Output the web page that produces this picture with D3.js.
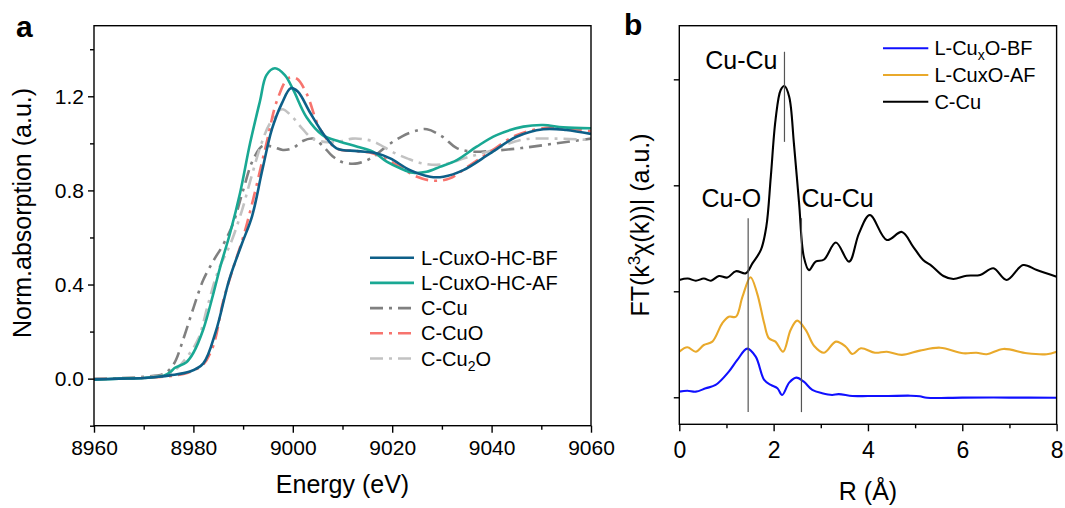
<!DOCTYPE html>
<html><head><meta charset="utf-8">
<script src="https://cdn.jsdelivr.net/npm/d3@7"></script>
<style>
body{margin:0;background:#fff;}
text{font-family:"Liberation Sans",Arial,sans-serif;fill:#000;}
</style></head>
<body><svg id="c" width="1065" height="508"></svg>
<script>
// ---------- Panel a data (Energy eV, normalized absorption) ----------
const seriesA = ["L-CuxO-HC-BF","L-CuxO-HC-AF","C-Cu","C-CuO","C-Cu2O"];
const bfA = [[8960,-0.003],[8965,0],[8970,0.003],[8973,0.008],[8975.3,0.014],[8979.3,0.03],[8982,0.065],[8984.5,0.2],[8987.2,0.42],[8989.7,0.57],[8991.8,0.69],[8993.8,0.88],[8995.8,1.06],[8997.8,1.17],[8999.6,1.234],[9001,1.22],[9003.5,1.13],[9006.5,1.03],[9008.8,0.979],[9013,0.967],[9017,0.957],[9019.6,0.936],[9023.6,0.886],[9027.6,0.858],[9030.3,0.858],[9034.3,0.886],[9039.7,0.957],[9045,1.028],[9050.4,1.06],[9055,1.057],[9060,1.04]];
const afA = [[8960,-0.005],[8965,0],[8970,0.003],[8974,0.012],[8975.5,0.03],[8976.2,0.045],[8978.6,0.07],[8980,0.11],[8982,0.21],[8984,0.36],[8985.4,0.475],[8987.4,0.62],[8989.4,0.79],[8991.4,1.0],[8993.4,1.18],[8994.7,1.29],[8996.4,1.319],[8998.4,1.29],[9000.1,1.227],[9002.8,1.11],[9006,1.035],[9009.5,1.007],[9013,0.986],[9016.2,0.964],[9018.9,0.922],[9021.6,0.894],[9024.2,0.875],[9026.9,0.879],[9029.6,0.9],[9033,0.929],[9037,0.986],[9041,1.035],[9046.4,1.071],[9050.4,1.078],[9054.4,1.068],[9060,1.064]];
const cuA = [[8960,0],[8965,0.002],[8970,0.008],[8974,0.02],[8976,0.06],[8978,0.17],[8980,0.3],[8982,0.42],[8984,0.5],[8986,0.57],[8988,0.66],[8990,0.8],[8992,0.93],[8994,0.99],[8996,0.985],[8998,0.972],[9000,0.98],[9002,1.01],[9004,1.02],[9006,0.99],[9008,0.945],[9010,0.92],[9013,0.915],[9016,0.94],[9019,0.99],[9022,1.03],[9025,1.055],[9027,1.06],[9030,1.03],[9033,0.98],[9036,0.965],[9040,0.968],[9046,0.98],[9053,1.0],[9060,1.02]];
const cuoA = [[8960,-0.003],[8965,0],[8970,0.003],[8975,0.01],[8978,0.02],[8980,0.035],[8982,0.06],[8984,0.14],[8986,0.33],[8988,0.47],[8990,0.6],[8992,0.76],[8994.7,1.0],[8996.8,1.18],[8999.1,1.277],[9000.8,1.275],[9002.8,1.21],[9005.5,1.06],[9008.8,0.979],[9013,0.967],[9016.2,0.957],[9021,0.907],[9025,0.858],[9028.3,0.841],[9031.6,0.851],[9035.6,0.907],[9039.7,0.964],[9045,1.035],[9051.8,1.068],[9056.5,1.061],[9060,1.052]];
const cu2oA = [[8960,0],[8970,0.005],[8975,0.02],[8977,0.05],[8979,0.1],[8981,0.17],[8983,0.32],[8985,0.46],[8987.4,0.57],[8989.7,0.71],[8991.7,0.86],[8993.7,1.0],[8995.4,1.085],[8997.8,1.145],[9000,1.11],[9002,1.06],[9004,1.02],[9007,1.005],[9010,1.01],[9012,1.02],[9015,1.015],[9017,1.0],[9020,0.964],[9023,0.936],[9026,0.915],[9030,0.91],[9035,0.94],[9040,0.97],[9046,1.015],[9053,1.02],[9060,1.014]];
const xTicksA = [8960,8980,9000,9020,9040,9060];
const yTicksA = [0.0,0.4,0.8,1.2];

// ---------- Panel b data (R Å, FT magnitude, offset) ----------
const seriesB = ["L-CuxO-BF","L-CuxO-AF","C-Cu"];
const bfB = [[0,0.053],[0.17,0.062],[0.35,0.053],[0.56,0.085],[0.77,0.116],[1.05,0.242],[1.23,0.352],[1.44,0.459],[1.62,0.383],[1.8,0.163],[1.94,0.116],[2.08,0.085],[2.18,0.022],[2.33,0.138],[2.48,0.185],[2.64,0.147],[2.82,0.069],[3.03,0.038],[3.24,0.022],[3.38,0.03],[3.67,0.012],[4.0,0.012],[4.4,0.012],[4.9,0.015],[5.1,0.01],[5.25,-0.005],[6,-0.003],[7,-0.003],[8,-0.005]];
const afB = [[0,0.43],[0.17,0.472],[0.35,0.43],[0.52,0.493],[0.7,0.525],[0.91,0.698],[1.05,0.76],[1.2,0.76],[1.34,0.949],[1.51,1.132],[1.65,0.981],[1.8,0.698],[1.9,0.557],[2.04,0.525],[2.2,0.43],[2.36,0.635],[2.5,0.723],[2.68,0.635],[2.86,0.484],[3.07,0.42],[3.32,0.525],[3.53,0.477],[3.67,0.408],[3.85,0.462],[4.15,0.42],[4.4,0.43],[4.72,0.4],[5.1,0.44],[5.53,0.468],[6.02,0.415],[6.3,0.42],[6.52,0.406],[6.87,0.456],[7.37,0.415],[7.79,0.406],[8,0.43]];
const cuB = [[0,1.107],[0.18,1.12],[0.35,1.1],[0.52,1.12],[0.67,1.1],[0.84,1.144],[1.02,1.13],[1.2,1.19],[1.41,1.17],[1.55,1.264],[1.73,1.39],[1.845,1.61],[1.94,2.08],[2.04,2.616],[2.15,2.9],[2.23,2.937],[2.33,2.836],[2.43,2.396],[2.54,1.83],[2.64,1.326],[2.75,1.2],[2.89,1.28],[3.07,1.3],[3.32,1.46],[3.6,1.28],[3.81,1.547],[4.04,1.72],[4.4,1.484],[4.72,1.56],[4.96,1.42],[5.17,1.295],[5.35,1.24],[5.6,1.144],[5.81,1.116],[6.09,1.147],[6.38,1.154],[6.66,1.217],[6.94,1.107],[7.29,1.248],[7.58,1.2],[8,1.138]];
const xTicksB = [0,2,4,6,8];
const yTicksB = [0,1,2,3];
const annoText = ["Cu-Cu","Cu-O","Cu-Cu"];
const annoR = [2.23,1.46,2.59];
const annoTop = [3.26,1.69,1.69];
const annoBot = [2.41,-0.14,-0.14];

// ---------- drawing ----------
const svg = d3.select("#c");
const colA = ["#0e5f88","#19a893","#808080","#f7746e","#c2c2c2"];
const dashA = [null,null,"13,6,3,6","13,6,3,6","13,6,3,6"];
const dataA = [bfA,afA,cuA,cuoA,cu2oA];
const colB = ["#1010ff","#e9a92b","#000000"];
const dataB = [bfB,afB,cuB];

const xa = d3.scaleLinear([8960,9060],[94,591]);
const ya = d3.scaleLinear([-0.2,1.5],[425.7,25.7]);
const xb = d3.scaleLinear([0,8],[679.3,1056.6]);
const yb = d3.scaleLinear([-0.255,3.506],[424.3,25.7]);

function frame(x,y){
  svg.append("rect").attr("x",x.range()[0]).attr("y",y.range()[1])
    .attr("width",x.range()[1]-x.range()[0]).attr("height",y.range()[0]-y.range()[1])
    .attr("fill","none").attr("stroke","#000").attr("stroke-width",1.4);
}
function styleAxis(g,fs){
  g.select(".domain").remove();
  g.selectAll("line").attr("stroke","#000").attr("stroke-width",1.4);
  g.selectAll("text").style("font-size",fs+"px").style("font-family",'"Liberation Sans",Arial,sans-serif').attr("fill","#000");
}
// clip paths
const defs = svg.append("defs");
defs.append("clipPath").attr("id","ca").append("rect").attr("x",94).attr("y",25.7).attr("width",497).attr("height",400);
defs.append("clipPath").attr("id","cb").append("rect").attr("x",679.3).attr("y",25.7).attr("width",377.3).attr("height",398.6);

// Panel a curves
const la = d3.line().x(d=>xa(d[0])).y(d=>ya(d[1])).curve(d3.curveCatmullRom.alpha(0.5));
const gA = svg.append("g").attr("clip-path","url(#ca)");
[2,4,3,1,0].forEach(i=>{
  gA.append("path").datum(dataA[i]).attr("d",la).attr("fill","none")
    .attr("stroke",colA[i]).attr("stroke-width",2.6)
    .attr("stroke-dasharray",dashA[i]).attr("stroke-linejoin","round");
});
// Panel a axes
let g;
g = svg.append("g").attr("transform","translate(0,425.7)")
  .call(d3.axisBottom(xa).tickValues(d3.range(8970,9060,20)).tickSize(4).tickFormat(""));
styleAxis(g,21);
g = svg.append("g").attr("transform","translate(0,425.7)")
  .call(d3.axisBottom(xa).tickValues(xTicksA).tickSize(7).tickPadding(7).tickFormat(d3.format("d")));
styleAxis(g,21);
g = svg.append("g").attr("transform","translate(94,0)")
  .call(d3.axisLeft(ya).tickValues([-0.2,0.2,0.6,1.0,1.4]).tickSize(4).tickFormat(""));
styleAxis(g,21);
g = svg.append("g").attr("transform","translate(94,0)")
  .call(d3.axisLeft(ya).tickValues(yTicksA).tickSize(6).tickPadding(4).tickFormat(d3.format(".1f")));
styleAxis(g,21);
frame(xa,ya);

// Panel a legend
const legA = svg.append("g");
seriesA.forEach((name,i)=>{
  const y = 257.7 + i*25.2;
  legA.append("line").attr("x1",370).attr("x2",414).attr("y1",y).attr("y2",y)
    .attr("stroke",colA[i]).attr("stroke-width",2.6).attr("stroke-dasharray",dashA[i]);
  const t = legA.append("text").attr("x",421).attr("y",y+7).style("font-size","20px");
  if(name==="C-Cu2O"){
    t.append("tspan").text("C-Cu");
    t.append("tspan").text("2").attr("dy",5).style("font-size","14px");
    t.append("tspan").text("O").attr("dy",-5);
  } else t.text(name);
});
// Panel a titles
svg.append("text").attr("x",342.5).attr("y",493).attr("text-anchor","middle").style("font-size","25px").text("Energy (eV)");
svg.append("text").attr("transform","translate(30.5,213) rotate(-90)").attr("text-anchor","middle").style("font-size","25px").text("Norm.absorption (a.u.)");
svg.append("text").attr("x",16).attr("y",37).style("font-size","30px").style("font-weight","bold").text("a");

// Panel b curves
const lb = d3.line().x(d=>xb(d[0])).y(d=>yb(d[1])).curve(d3.curveCatmullRom.alpha(0.5));
const gB = svg.append("g").attr("clip-path","url(#cb)");
[2,1,0].forEach(i=>{
  gB.append("path").datum(dataB[i]).attr("d",lb).attr("fill","none")
    .attr("stroke",colB[i]).attr("stroke-width",2.1).attr("stroke-linejoin","round");
});
// annotation lines
annoR.forEach((r,i)=>{
  svg.append("line").attr("x1",xb(r)).attr("x2",xb(r)).attr("y1",yb(annoTop[i])).attr("y2",yb(annoBot[i]))
    .attr("stroke","#555").attr("stroke-width",1.2);
});
svg.append("text").attr("x",xb(annoR[0])-7).attr("y",69).attr("text-anchor","end").style("font-size","25px").text(annoText[0]);
svg.append("text").attr("x",xb(annoR[1])+13).attr("y",206.7).attr("text-anchor","end").style("font-size","25px").text(annoText[1]);
svg.append("text").attr("x",xb(annoR[2])).attr("y",206.7).attr("text-anchor","start").style("font-size","25px").text(annoText[2]);

// Panel b axes
g = svg.append("g").attr("transform","translate(0,424.3)")
  .call(d3.axisBottom(xb).tickValues([1,3,5,7]).tickSize(4).tickFormat(""));
styleAxis(g,23);
g = svg.append("g").attr("transform","translate(0,424.3)")
  .call(d3.axisBottom(xb).tickValues(xTicksB).tickSize(7).tickPadding(10.5).tickFormat(d3.format("d")));
styleAxis(g,23);
g = svg.append("g").attr("transform","translate(679.3,0)")
  .call(d3.axisLeft(yb).tickValues(yTicksB).tickSize(5.5).tickFormat(""));
styleAxis(g,23);
frame(xb,yb);

// Panel b legend
const legB = svg.append("g");
seriesB.forEach((name,i)=>{
  const y = 48.3 + i*26.7;
  legB.append("line").attr("x1",883).attr("x2",928.3).attr("y1",y).attr("y2",y)
    .attr("stroke",colB[i]).attr("stroke-width",2.1);
  const t = legB.append("text").attr("x",934.4).attr("y",y+7).style("font-size","20px");
  if(i===0){
    t.append("tspan").text("L-Cu");
    t.append("tspan").text("x").attr("dy",5).style("font-size","14px");
    t.append("tspan").text("O-BF").attr("dy",-5);
  } else t.text(name);
});
// Panel b titles
svg.append("text").attr("x",868).attr("y",500).attr("text-anchor","middle").style("font-size","25px").text("R (Å)");
const yt = svg.append("text").attr("transform","translate(649,225) rotate(-90)").attr("text-anchor","middle").style("font-size","25px");
yt.append("tspan").text("FT(k");
yt.append("tspan").text("3").attr("dy",-9).style("font-size","17px");
yt.append("tspan").text("χ(k))| (a.u.)").attr("dy",9);
svg.append("text").attr("x",624).attr("y",35).style("font-size","30px").style("font-weight","bold").text("b");
</script></body></html>
